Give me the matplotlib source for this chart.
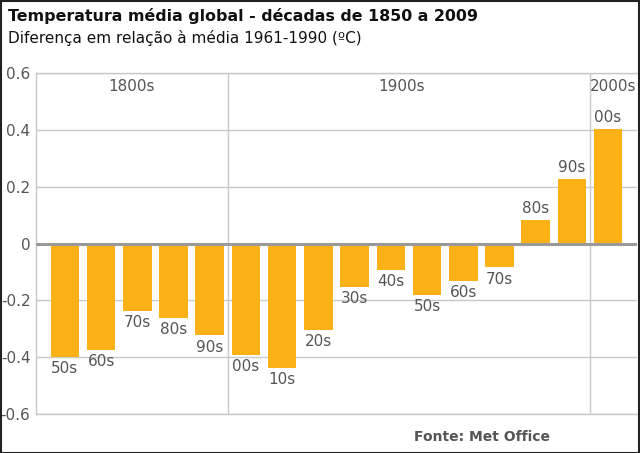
import matplotlib
matplotlib.use("Agg")
import matplotlib.pyplot as plt
from matplotlib.patches import Rectangle

# Data
decade_labels = ["50s", "60s", "70s", "80s", "90s",
                 "00s", "10s", "20s", "30s", "40s", "50s", "60s", "70s", "80s", "90s",
                 "00s"]
anomalies = [-0.40, -0.375, -0.236, -0.261, -0.323,
             -0.391, -0.439, -0.304, -0.152, -0.093, -0.18, -0.13, -0.084, 0.083, 0.227,
             0.404]
centuries = ["1800s", "1900s", "2000s"]
century_counts = [5, 10, 1]
yticks = [0.6, 0.4, 0.2, 0, -0.2, -0.4, -0.6]
ytick_labels = ["0.6", "0.4", "0.2", "0", "-0.2", "-0.4", "-0.6"]

plt.rcParams['font.family'] = ['DejaVu Sans']
BAR = "#FCB116"
GRID = "#c8c8c8"
TXT = "#555555"

fig = plt.figure(figsize=(6.4, 4.53), dpi=100)
ax = fig.add_axes([36/640, 39/453, 601/640, 340.7/453])

x = list(range(len(anomalies)))
ax.bar(x, anomalies, width=0.79, color=BAR, zorder=2)
ax.set_xlim(-0.8, len(anomalies) - 0.2)
ax.set_ylim(-0.6, 0.6)

for y in yticks:
    if y != 0:
        ax.axhline(y, color=GRID, lw=1.0, zorder=1)
ax.axhline(0, color="#999999", lw=2.2, zorder=3)

# century dividers
pos = -0.5
for c in century_counts[:-1]:
    pos += c
    ax.axvline(pos, color=GRID, lw=1.0, zorder=1)

for s in ax.spines.values():
    s.set_color(GRID)
    s.set_linewidth(1.0)
ax.spines['right'].set_visible(False)

ax.set_yticks(yticks)
ax.set_yticklabels(ytick_labels)
ax.tick_params(axis='y', length=0, pad=4, labelsize=11, labelcolor=TXT)
ax.set_xticks([])

# bar labels
for xi, v, lab in zip(x, anomalies, decade_labels):
    if v < 0:
        ax.annotate(lab, (xi, v), xytext=(0, -3), textcoords="offset points",
                    ha="center", va="top", fontsize=11, color=TXT)
    else:
        ax.annotate(lab, (xi, v), xytext=(0, 3), textcoords="offset points",
                    ha="center", va="bottom", fontsize=11, color=TXT)

# century labels
start = -0.5
offsets = [-0.15, -0.2, 0.0]
for name, cnt, off in zip(centuries, century_counts, offsets):
    end = start + cnt
    cx = (start + end) / 2 + off
    if name == "2000s":
        cx = (start + len(anomalies) - 0.2) / 2
    ax.text(cx, 0.555, name, ha="center", va="center", fontsize=11, color=TXT)
    start = end

fig.text(7.5/640, 1 - 15.5/453, "Temperatura média global - décadas de 1850 a 2009",
         fontsize=11.45, fontweight="bold", color="#111111", va="center", ha="left")
fig.text(7.5/640, 1 - 37.5/453, "Diferença em relação à média 1961-1990 (ºC)",
         fontsize=11, color="#111111", va="center", ha="left")
fig.text(550/640, 1 - 437/453, "Fonte: Met Office", fontsize=10, fontweight="bold",
         color=TXT, va="center", ha="right")

fig.patches.append(Rectangle((0.5/640, 0.5/453), 638.5/640, 451.5/453, transform=fig.transFigure,
                             fill=False, edgecolor="#222222", lw=1.5))

fig.savefig("out.png", dpi=100)
